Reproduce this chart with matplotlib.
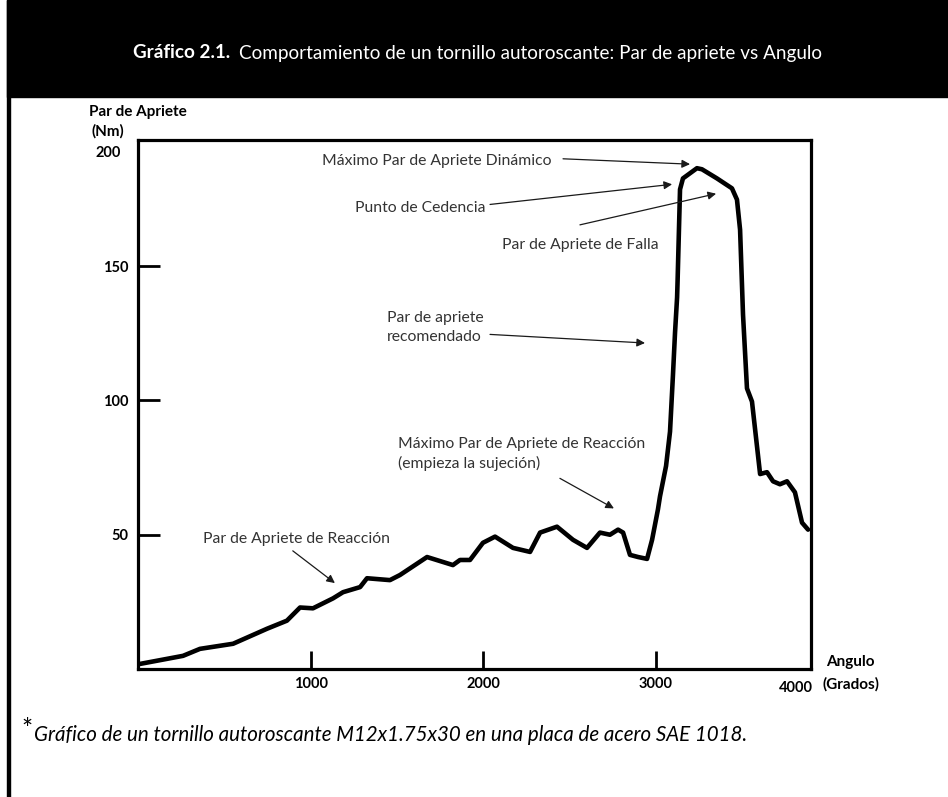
import matplotlib
matplotlib.use("Agg")
import matplotlib.pyplot as plt
from matplotlib.patches import Rectangle

plt.rcParams['font.family'] = ['Lato', 'DejaVu Sans']

# torque curve: angle (grados) vs par de apriete (Nm)
angulo = [12, 261, 359, 551, 748, 863, 939, 1014, 1130, 1188, 1287, 1327, 1460, 1518,
          1675, 1825, 1866, 1924, 1999, 2069, 2173, 2272, 2330, 2428, 2521, 2602, 2677,
          2735, 2782, 2811, 2851, 2898, 2950, 2979, 3013, 3025, 3060, 3083, 3100, 3112,
          3124, 3127, 3141, 3158, 3239, 3268, 3355, 3442, 3471, 3489, 3506, 3529, 3558,
          3605, 3645, 3680, 3720, 3761, 3807, 3848, 3883]
par = [1.9, 4.9, 7.5, 9.4, 15.0, 18.0, 22.9, 22.6, 26.3, 28.6, 30.5, 33.8, 33.1, 35.0,
       41.7, 38.7, 40.6, 40.6, 47.0, 49.3, 45.1, 43.6, 50.8, 53.0, 48.1, 45.1, 50.8,
       50.0, 51.9, 50.8, 42.5, 41.7, 41.0, 48.1, 59.4, 64.3, 75.6, 88.4, 109.4, 125.2,
       138.4, 144.8, 178.6, 182.7, 186.5, 186.1, 182.7, 179.0, 174.8, 163.6, 132.0, 104.5, 99.6,
       72.6, 73.3, 69.9, 68.8, 69.9, 65.8, 54.5, 51.9]

x_ticks = [1000, 2000, 3000]
y_ticks = [50, 100, 150]

# annotation text, text anchor, arrow tail, arrow head, alignment
notas = [
    ("Máximo Par de Apriete Dinámico", (2399, 189), (2463, 190), (3199, 188), 'right'),
    ("Punto de Cedencia", (2011, 171.5), (2040, 173), (3095, 180.5), 'right'),
    ("Par de Apriete de Falla", (2109, 158), (2561, 165.4), (3350, 177), 'left'),
    ("Par de apriete\nrecomendado", (1443, 127), (2040, 124.6), (2938, 121.4), 'left'),
    ("Máximo Par de Apriete de Reacción\n(empieza la sujeción)", (1507, 80), (2445, 71), (2758, 59.8), 'left'),
    ("Par de Apriete de Reacción", (377, 48.5), (897, 44), (1141, 32), 'left'),
]

W, H = 948, 797
fig = plt.figure(figsize=(W / 100, H / 100), dpi=100)


def fx(px):
    return px / W


def fy(py):
    return 1 - py / H


# black title band and left border
fig.patches.append(Rectangle((fx(7), fy(97)), 1 - fx(7), 1 - fy(97),
                             transform=fig.transFigure, color='black', zorder=0))
fig.patches.append(Rectangle((fx(7), 0), fx(3), 1,
                             transform=fig.transFigure, color='black', zorder=0))

ax = fig.add_axes([fx(138), fy(669), fx(811) - fx(138), fy(140) - fy(669)])
ax.plot(angulo, par, color='black', lw=3.3, solid_joinstyle='round', solid_capstyle='round')
ax.set_xlim(0, 3900)
ax.set_ylim(0, 197)
for s in ax.spines.values():
    s.set_linewidth(2.3)
ax.set_xticks(x_ticks)
ax.set_xticklabels([str(v) for v in x_ticks])
ax.set_yticks(y_ticks)
ax.set_yticklabels([str(v) for v in y_ticks])
ax.tick_params(axis='x', direction='in', length=13, width=2, pad=6, labelsize=10.5)
ax.tick_params(axis='y', direction='in', length=16, width=2, pad=7, labelsize=10.5)
for lab in ax.get_xticklabels() + ax.get_yticklabels():
    lab.set_fontweight('bold')
ax.text(3815, -4.5, "4000", ha='center', va='top', fontsize=10.5, fontweight='bold')
ax.text(-100, 192, "200", ha='right', va='center', fontsize=10.5, fontweight='bold')

for txt, pos, tail, head, ha in notas:
    ax.text(pos[0], pos[1], txt, ha=ha, va='center', fontsize=11.3, color='#333333',
            linespacing=1.45, multialignment='left' if ha == 'left' else 'right')
    ax.annotate("", xy=head, xytext=tail,
                arrowprops=dict(arrowstyle='-|>', color='#1a1a1a', lw=0.9,
                                mutation_scale=12, shrinkA=0, shrinkB=0))

# axis titles
fig.text(fx(138), fy(112), "Par de Apriete", ha='center', va='center', fontsize=11, fontweight='bold')
fig.text(fx(108), fy(131), "(Nm)", ha='center', va='center', fontsize=11, fontweight='bold')
fig.text(fx(850), fy(662), "Angulo", ha='center', va='center', fontsize=11, fontweight='bold')
fig.text(fx(851), fy(684), "(Grados)", ha='center', va='center', fontsize=11, fontweight='bold')

# title: bold part then regular part
renderer = fig.canvas.get_renderer()
t1 = fig.text(fx(133), fy(53), "Gráfico 2.1.", ha='left', va='center', color='white',
              fontsize=13.6, fontweight='bold')
bb = t1.get_window_extent(renderer)
fig.text(bb.x1 / W + fx(9), fy(53), "Comportamiento de un tornillo autoroscante: Par de apriete vs Angulo",
         ha='left', va='center', color='white', fontsize=13.6)

# footnote
t2 = fig.text(fx(21), fy(731), "*", ha='left', va='center', fontsize=19)
bb2 = t2.get_window_extent(renderer)
fig.text(bb2.x1 / W + fx(2), fy(735),
         "Gráfico de un tornillo autoroscante M12x1.75x30 en una placa de acero SAE 1018.",
         ha='left', va='center', fontsize=14.8, fontstyle='italic')

fig.savefig("out.png", dpi=100)
